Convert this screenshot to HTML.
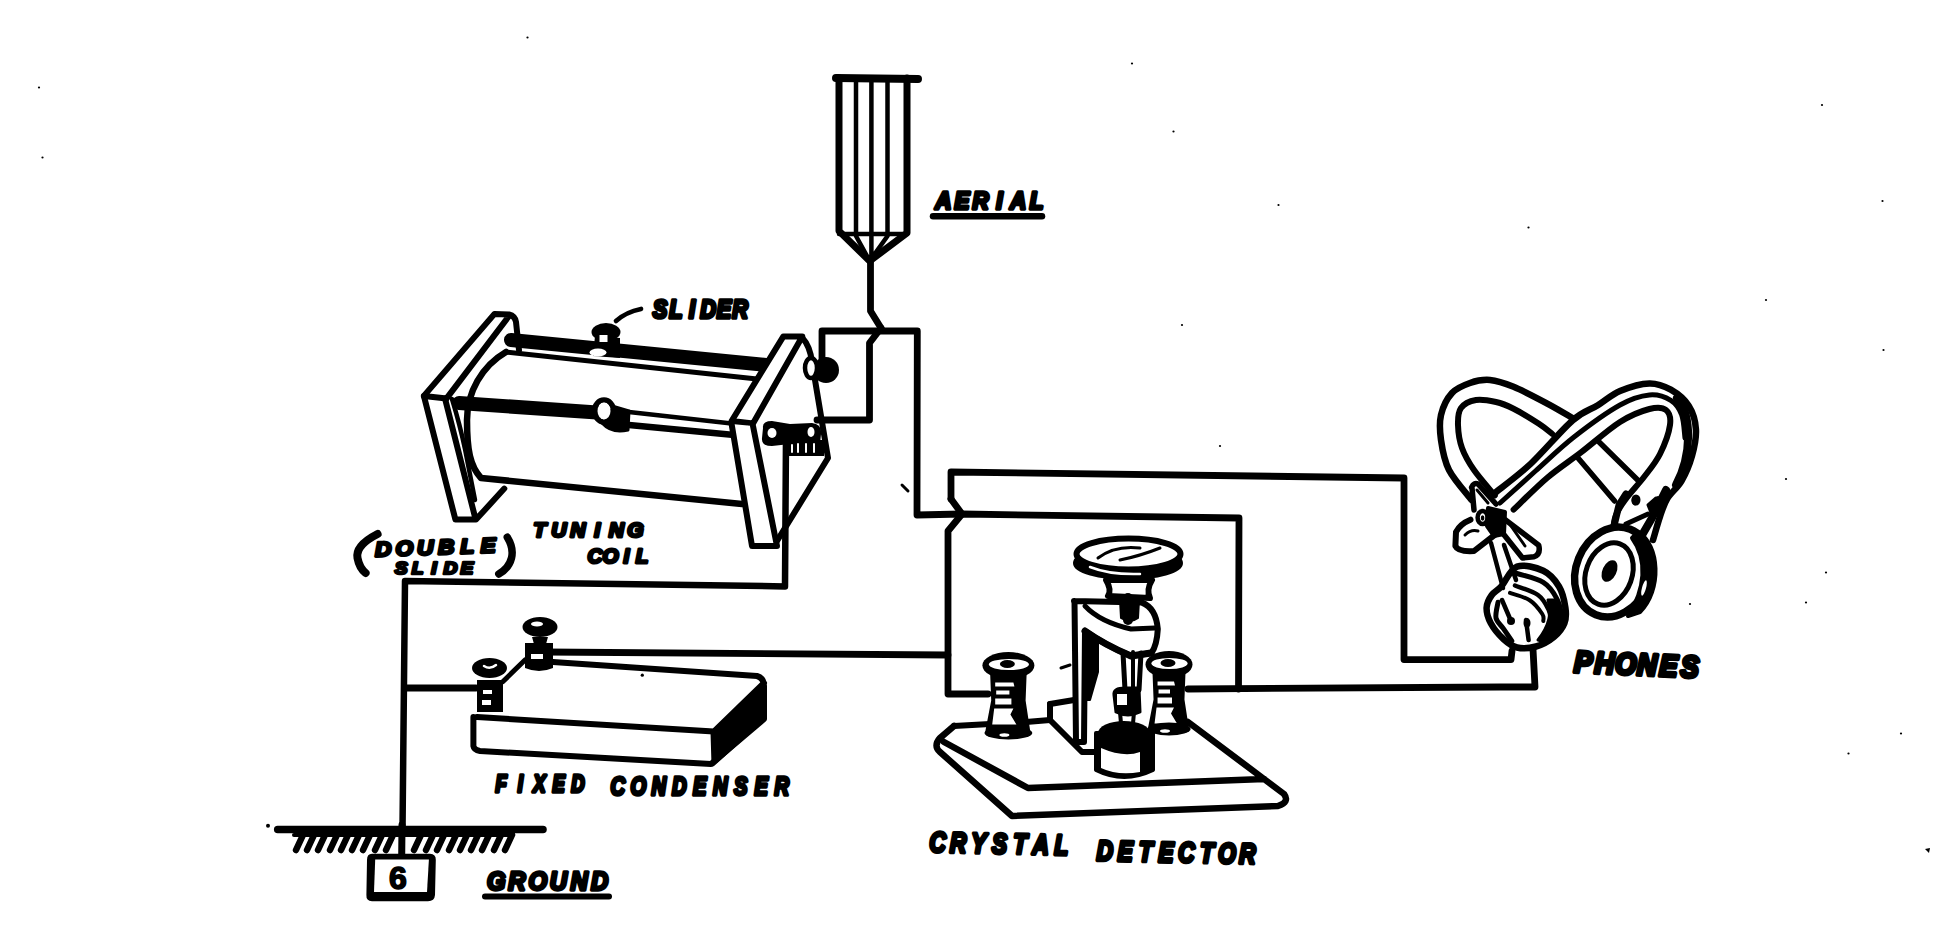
<!DOCTYPE html>
<html><head><meta charset="utf-8"><style>
html,body{margin:0;padding:0;background:#fff;}
body{width:1933px;height:951px;overflow:hidden;}
svg{display:block;}
</style></head><body>
<svg width="1933" height="951" viewBox="0 0 1933 951">
<g fill="none" stroke="#000" stroke-linecap="round" stroke-linejoin="round">
<!-- WIRES -->
<g id="wires" stroke-width="6.8">
<path d="M870.5 261 L870.5 311 L881 328"/>
<path d="M881 328 L869.5 343 L869.5 420 L817 420"/>
<path d="M822 360 L822 331 L917.3 331 L917 515 L962 514 L1239 518 L1238.5 689"/>
<path d="M951 499 L951 472 L1404 478 L1404 659.6 L1511 659.6 L1512 651"/>
<path d="M951 499 L962 514 L948 531 L948 694 L988 694"/>
<path d="M545 652 L948 655"/>
<path d="M1188 689 L1500 687 L1535 687 L1533 649"/>
<path d="M786 437 L785 586.4 L405 581 L402.5 830" stroke-width="6.5"/>
<path d="M405 688 L476 688"/>
</g>

<!-- TUNING COIL -->
<g id="coil">
<!-- coil body -->
<path d="M506 352 C482 366 467 392 467 420 C467 450 470 466 481 478 L742 504" stroke-width="6.5"/>
<path d="M506 352 L757 379" stroke-width="5"/>
<!-- top rod -->
<path d="M511 340 L766 365" stroke-width="14"/>
<!-- slider -->
<ellipse cx="606" cy="332" rx="14.5" ry="9" fill="#000" stroke="none"/>
<path d="M595 336 L593 356 L620 358 L620 338" fill="#000" stroke="none"/>
<rect x="599.5" y="335" width="8" height="7" fill="#fff" stroke="none"/>
<ellipse cx="598" cy="352.5" rx="8.5" ry="4" fill="#fff" stroke="none"/>
<path d="M616 321 Q626 312 641 309" stroke-width="4.7"/>
<!-- lower rod -->
<path d="M459 403 L597 412.5" stroke-width="14"/>
<path d="M629 412 L745 425" stroke-width="4.5"/>
<path d="M629 425 L745 436" stroke-width="6.5"/>
<ellipse cx="604" cy="411" rx="9.5" ry="11" stroke-width="5.5"/>
<path d="M602 423 Q612 434 628 430 L629 411 L612 406" fill="#000" stroke-width="3"/><ellipse cx="604" cy="411" rx="6.5" ry="8.5" fill="#fff" stroke="none"/>
<!-- left board -->
<path d="M446.6 398.4 L423.9 395.9 L494.5 313.9 L509 314.5 Q515 316 516 322 L519 350 M509 316 L446.6 398.4" stroke-width="6"/>
<path d="M423.9 396 L455.4 519.6 L476 519.6 L504.3 488.6 M445 398.4 L475 517" stroke-width="6"/>
<path d="M452 399 Q460 425 465 449 L475 500" stroke-width="4.5"/>
<!-- right board -->
<path d="M731.6 421 L783.4 336.4 L802.3 336.4 L753 423.5 Z" stroke-width="6" fill="#fff"/>
<path d="M731.6 424 L752 546 L777 546 L753 426" stroke-width="6" fill="#fff"/>
<path d="M802.3 337.7 Q810 346 812 362 L828 458 L777 541" stroke-width="6"/>
<!-- screws -->
<ellipse cx="826" cy="370" rx="13" ry="13" fill="#000" stroke="none"/>
<ellipse cx="811" cy="368" rx="6" ry="10" fill="#fff" stroke="#000" stroke-width="4.5"/>
<path d="M763 428 Q762 421 772 421 L790 424 L812 423 Q822 424 821 434 L820 444 Q818 448 808 446 L790 444 L772 446 Q761 446 762 438 Z" fill="#000" stroke="none"/>
<ellipse cx="772" cy="433" rx="4.5" ry="5" fill="#fff" stroke="none"/>
<ellipse cx="811" cy="432" rx="3.5" ry="5" fill="#fff" stroke="none"/>
<path d="M787 440 L824 440 L824 456 L787 456 Z" fill="#000" stroke="none"/>
<path d="M792 445 L792 452 M798 444 L798 452 M806 444 L806 452 M814 444 L814 452" stroke="#fff" stroke-width="2"/>
</g>

<!-- CRYSTAL DETECTOR -->
<g id="detector">
<!-- base -->
<path d="M954 726 L940 738 Q933 746 940 752 L1012 816 L1278 806 Q1290 802 1284 794 L1264 779 L1188 722 M944 742 L1028 788 L1264 779" stroke-width="6.5" fill="#fff"/>
<path d="M954 726 L990 724 M1026 722 L1050 720" stroke-width="6"/>
<!-- bracket -->
<path d="M1050 704 L1050 720 L1082 752 L1094 752" stroke-width="6" fill="#fff"/>
<path d="M1050 704 L1074 700" stroke-width="6"/>
<path d="M1074 601 L1142 602.6 Q1156 608 1157.8 629 Q1157 645 1151.5 653 L1131 656 Q1105 645 1085 631 L1084 742 L1076 742 L1074.5 601 Z" fill="#fff" stroke-width="6"/>
<path d="M1085 606 Q1100 622 1131 629 L1155 628" stroke-width="5"/>
<path d="M1085 631 Q1105 645 1131 656 L1151 653" stroke-width="7"/>
<path d="M1084 633 L1098 640 L1098 672 L1090 700 L1086 700 Z" fill="#000" stroke-width="2"/>
<path d="M1061 668 L1070 665" stroke-width="3"/>
<!-- needle -->
<path d="M1120 600 L1139 600 L1138 618 Q1130 624 1121 618 Z" fill="#000" stroke-width="2"/>
<path d="M1123 653 L1125 690 M1141 653 L1139 690" stroke-width="5"/>
<path d="M1133 652 L1133 688" stroke-width="4"/>
<path d="M1114 695 Q1113 688 1125 688 L1139 688 L1140 712 Q1128 718 1116 712 Z" fill="#000" stroke-width="3"/>
<rect x="1117" y="694" width="10" height="11" fill="#fff" stroke="none"/>
<path d="M1120 712 L1122 735 M1134 712 L1132 735" stroke-width="4"/>
<!-- cup -->
<path d="M1096 733 L1096 770 Q1124 784 1153 770 L1153 733 Z" fill="#000" stroke="#000" stroke-width="4"/>
<path d="M1101 748 Q1124 758 1140 752 L1140 772 Q1118 776 1101 768 Z" fill="#fff" stroke="none"/>
<ellipse cx="1124" cy="733" rx="26" ry="12" fill="#000" stroke="none"/>
<!-- top disc -->
<path d="M1106 580 Q1112 590 1108 596 L1150 598 Q1146 590 1152 580 Z" fill="#fff" stroke-width="6"/>
<ellipse cx="1128" cy="563" rx="53" ry="15" fill="#000" stroke="#000" stroke-width="4"/>
<ellipse cx="1128.5" cy="554" rx="52" ry="15.5" fill="#fff" stroke-width="6"/><path d="M1090 567 Q1110 575 1140 574" stroke="#fff" stroke-width="2.5"/>
<path d="M1098 558 Q1115 545 1140 548 M1120 560 Q1140 556 1160 548" stroke-width="3"/>
<path d="M1128 598 L1128 620" stroke-width="10"/>
<!-- left post -->
<ellipse cx="1008.4" cy="665.5" rx="26" ry="13.5" fill="#000" stroke="none"/>
<path d="M990.1999999999999 674.5 L1026.6 674.5 L1025.6 700.5 L1030.5 733 L985.0 733 L991.1999999999999 700.5 Z" fill="#000" stroke="none"/>
<ellipse cx="1008.9" cy="664.5" rx="20.02" ry="5.5" fill="#fff" stroke="none"/>
<ellipse cx="1007.4" cy="664.0" rx="7.5" ry="4" fill="#000" stroke="none"/>
<path d="M995.1999999999999 682.5 L1013.4 682.5 L1014.4 686.5 L995.1999999999999 686.5 Z M996.1999999999999 690.5 L1009.4 690.5 L1009.4 694.5 L996.1999999999999 694.5 Z M995.1999999999999 698.5 L1011.4 698.5 L1011.4 704.5 L995.1999999999999 704.5 Z M994.1999999999999 708.5 L1013.4 708.5 L1010.4 714.5 L1016.4 724.5 L992.1999999999999 724.5 Z" fill="#fff" stroke="none"/>
<ellipse cx="1008.4" cy="733" rx="23.92" ry="6.5" fill="#000" stroke="none"/>
<ellipse cx="1004.4" cy="735" rx="5" ry="1.8" fill="#fff" stroke="none"/>
<!-- right post -->
<ellipse cx="1169" cy="664.5" rx="23.5" ry="13.5" fill="#000" stroke="none"/>
<path d="M1152.55 673.5 L1185.45 673.5 L1184.45 699.5 L1188.975 729 L1147.85 729 L1153.55 699.5 Z" fill="#000" stroke="none"/>
<ellipse cx="1169.5" cy="663.5" rx="18.095" ry="5.5" fill="#fff" stroke="none"/>
<ellipse cx="1168" cy="663.0" rx="7.5" ry="4" fill="#000" stroke="none"/>
<path d="M1157.55 681.5 L1174 681.5 L1175 685.5 L1157.55 685.5 Z M1158.55 689.5 L1170 689.5 L1170 693.5 L1158.55 693.5 Z M1157.55 697.5 L1172 697.5 L1172 703.5 L1157.55 703.5 Z M1156.55 707.5 L1174 707.5 L1171 713.5 L1177 723.5 L1154.55 723.5 Z" fill="#fff" stroke="none"/>
<ellipse cx="1169" cy="729" rx="21.62" ry="6.5" fill="#000" stroke="none"/>
<ellipse cx="1165" cy="731" rx="5" ry="1.8" fill="#fff" stroke="none"/>
</g>

<!-- CONDENSER -->
<g id="condenser">
<path d="M473.4 717 L473.4 746 Q474 750 480 751 L711 764 L764 719 L764 686 Q764 678 757 676 L553 662 M477 717 L713.8 731.6 L764 683" stroke-width="6" fill="#fff"/>
<path d="M712 732 L764 684 L764 719 L713 765 Z" fill="#000" stroke-width="3"/>
<path d="M503 681.5 L525 660" stroke-width="5"/>
<!-- post R -->
<path d="M525 643 L525 668 Q539 674 553 668 L553 643 Z" fill="#000" stroke="none"/>
<rect x="531" y="654" width="12" height="5" fill="#fff" stroke="none"/>
<ellipse cx="540" cy="627" rx="17.5" ry="10" fill="#000" stroke="none"/>
<path d="M532 637 L548 637 L546 644 L534 644 Z" fill="#000" stroke="none"/>
<ellipse cx="537" cy="624" rx="6" ry="2.5" fill="#fff" stroke="none"/>
<!-- post L -->
<path d="M477 680 L477 712 L503 712 L503 680 Z" fill="#000" stroke="none"/>
<rect x="483" y="690" width="9" height="4" fill="#fff" stroke="none"/>
<rect x="482" y="700" width="9" height="5" fill="#fff" stroke="none"/>
<ellipse cx="489.5" cy="668" rx="17.5" ry="10" fill="#000" stroke="none"/>
<path d="M484 666 Q490 670 496 665" stroke="#fff" stroke-width="2.5"/>
</g>
<!-- GROUND -->
<g id="ground">
<path d="M277.7 829.5 L543 829.5" stroke-width="7.5"/>
<path d="M296 850 L303 835 M307 850 L314 835 M318 850 L325 835 M330 850 L337 835 M341 850 L348 835 M352 850 L359 835 M363 850 L370 835 M375 850 L382 835 M386 850 L393 835 M414 850 L421 835 M426 850 L433 835 M437 850 L444 835 M449 850 L456 835 M460 850 L467 835 M471 850 L478 835 M482 850 L489 835 M494 850 L501 835 M505 850 L512 835" stroke-width="6.5"/>
<path d="M294 835 L512 835" stroke-width="4"/>
<path d="M402 825 L401.7 856" stroke-width="7"/>
<path d="M372 853.8 L430 853.8 Q436 854 435.8 860 L435 895 Q434.5 901.2 428 901.2 L372 901.2 Q366 901 366.4 895 L367 860 Q367 853.8 372 853.8 Z" fill="#000" stroke="none"/>
<path d="M375.2 859.5 L428.9 859.5 L427 892 L374 892 Z" fill="#fff" stroke="none"/>
<circle cx="268" cy="825.7" r="2" fill="#000" stroke="none"/>
</g>

<!-- PHONES -->
<g id="phones" stroke-width="5.5">
<path d="M1471.6 500.0 C1467.8 495.0 1454.1 480.0 1449.0 470.0 C1443.9 460.0 1442.3 449.2 1441.0 440.0 C1439.7 430.8 1439.2 422.8 1441.0 415.0 C1442.8 407.2 1447.2 398.3 1452.0 393.0 C1456.8 387.7 1463.7 385.2 1470.0 383.0 C1476.3 380.8 1482.7 379.4 1490.0 380.0 C1497.3 380.6 1504.0 382.9 1513.6 386.8 C1523.1 390.7 1537.5 398.4 1547.3 403.6 C1557.1 408.8 1568.3 415.6 1572.5 418.0" stroke-width="6.5"/>
<path d="M1494.8 495.4 C1491.3 491.2 1479.5 477.9 1474.0 470.0 C1468.5 462.1 1464.7 455.5 1462.0 448.0 C1459.3 440.5 1458.2 431.7 1458.0 425.0 C1457.8 418.3 1458.0 412.2 1461.0 408.0 C1464.0 403.8 1470.2 401.0 1476.0 400.0 C1481.8 399.0 1489.7 400.6 1496.0 402.0 C1502.3 403.4 1506.4 405.1 1513.6 408.7 C1520.8 412.3 1532.5 419.6 1538.9 423.8 C1545.4 428.0 1550.1 432.3 1552.3 434.0" stroke-width="6"/>
<path d="M1577.6 457.5 L1614.6 501 M1597.8 440.7 L1638.7 481" stroke-width="5.5"/>
<path d="M1495.0 492.8 C1500.9 488.0 1517.6 476.1 1530.5 464.0 C1543.4 451.9 1561.3 430.3 1572.5 420.5 C1583.7 410.7 1589.9 410.2 1597.8 405.3 C1605.7 400.4 1611.4 394.6 1620.0 391.0 C1628.6 387.4 1640.9 383.6 1649.4 383.4 C1657.9 383.2 1664.2 386.0 1670.8 389.7 C1677.3 393.4 1684.5 399.2 1688.7 405.8 C1692.9 412.4 1695.4 420.7 1695.9 429.0 C1696.5 437.3 1694.4 447.2 1692.0 455.8 C1689.6 464.4 1685.7 473.7 1681.6 480.8 C1677.5 487.9 1670.9 492.7 1667.3 498.7 C1663.7 504.7 1662.4 509.7 1660.0 516.6 C1657.6 523.5 1654.2 536.1 1653.0 540.0" stroke-width="6.5"/>
<path d="M1500.0 503.0 C1505.9 497.7 1523.2 482.0 1535.5 471.0 C1547.8 460.0 1559.9 448.0 1574.0 437.0 C1588.1 426.0 1607.4 412.0 1620.0 405.0 C1632.6 398.0 1640.9 395.8 1649.4 395.0 C1657.9 394.2 1665.4 397.1 1670.8 400.4 C1676.2 403.7 1679.2 408.4 1681.6 414.7 C1684.0 421.0 1684.4 434.1 1685.0 438.0" stroke-width="5"/>
<path d="M1513.6 509.6 C1519.2 504.3 1536.1 487.2 1547.3 477.7 C1558.5 468.2 1568.9 461.7 1581.0 452.4 C1593.1 443.1 1608.6 429.2 1620.0 422.0 C1631.4 414.8 1641.7 411.0 1649.4 409.0 C1657.1 407.0 1662.6 407.3 1666.0 410.0 C1669.4 412.7 1671.0 417.7 1670.0 425.0 C1669.0 432.3 1664.3 445.3 1660.0 454.0 C1655.7 462.7 1649.7 469.6 1644.0 477.0 C1638.3 484.4 1630.8 492.1 1626.0 498.7 C1621.2 505.3 1617.7 509.7 1615.4 516.6 C1613.1 523.5 1612.6 536.1 1612.0 540.0" stroke-width="6"/>
<path d="M1677 398 C1692 415 1692 455 1676 485" stroke-width="8"/>
<ellipse cx="1635" cy="500.5" rx="3.5" ry="5" fill="#000" stroke="none"/>
<path d="M1648 505 L1656 498 L1652 515 Z" fill="#000" stroke-width="3"/>
<!-- left clip -->
<path d="M1471.6 487.4 Q1474 482 1478 484 L1496 504 M1472 488 L1474 510" stroke-width="5.5"/>
<path d="M1477 490 L1488 503" stroke-width="3"/>
<path d="M1470.5 519.7 Q1460 524 1456 532 L1455.4 546 Q1458 552 1474 551 L1494.8 534.8" stroke-width="6"/>
<path d="M1465 535 Q1471 529 1478 531" stroke-width="3"/>
<ellipse cx="1482.6" cy="517.5" rx="5" ry="6.5" stroke-width="4.5"/>
<ellipse cx="1482.6" cy="518" rx="1.8" ry="2.8" fill="#000" stroke="none"/>
<path d="M1488 508 L1505 512 L1504 534 L1494 536 L1487 526 Z" fill="#000" stroke-width="4"/>
<path d="M1505.2 519.7 L1538.7 545.2 Q1541 554 1534 556.8 L1522.5 558 L1504 534.8" stroke-width="5.5"/>
<path d="M1511 526 L1525 546" stroke-width="3"/>
<!-- stems -->
<!-- left earphone -->
<path d="M1517.0 566.6 C1524.0 564.0 1536.3 567.5 1543.3 570.8 C1550.3 574.1 1555.3 580.4 1559.0 586.5 C1562.7 592.6 1564.5 601.5 1565.4 607.6 C1566.3 613.7 1566.3 618.4 1564.4 623.3 C1562.5 628.2 1558.6 633.1 1553.9 637.0 C1549.2 640.9 1542.2 644.8 1536.0 646.5 C1529.8 648.2 1522.4 648.8 1517.0 647.5 C1511.6 646.2 1507.8 643.0 1503.4 639.0 C1499.0 635.0 1493.6 628.5 1490.8 623.3 C1488.0 618.1 1486.4 612.3 1486.6 607.6 C1486.8 602.9 1489.3 598.5 1491.8 595.0 C1494.2 591.5 1497.1 591.2 1501.3 586.5 C1505.5 581.8 1510.0 569.2 1517.0 566.6 Z" fill="#fff" stroke-width="6.5"/>
<path d="M1557 600 C1566 615 1562 632 1545 642 L1538 640 C1550 625 1552 612 1548 600 Z" fill="#000" stroke-width="3"/>
<path d="M1515.0 573.0 C1519.7 574.5 1536.3 578.0 1543.3 582.3 C1550.3 586.6 1554.0 593.0 1557.0 599.0 C1560.0 605.0 1561.5 613.1 1561.2 618.0 C1560.9 622.9 1556.0 626.8 1555.0 628.6" stroke-width="5"/>
<path d="M1515.0 585.5 C1518.8 587.1 1532.4 591.0 1538.0 595.0 C1543.6 599.0 1546.5 605.5 1548.6 609.7 C1550.7 613.9 1550.3 618.3 1550.7 620.0" stroke-width="4.5"/>
<path d="M1510.0 592.9 C1513.3 594.1 1524.3 596.7 1529.7 600.2 C1535.1 603.7 1540.0 610.5 1542.3 614.0 C1544.6 617.5 1543.1 619.8 1543.3 621.0" stroke-width="4"/>
<path d="M1498.0 602.3 C1497.7 604.9 1495.1 613.6 1496.0 618.0 C1496.9 622.4 1500.8 624.8 1503.4 628.6 C1506.0 632.4 1510.4 638.9 1511.8 641.0" stroke-width="5"/>
<path d="M1502 600 L1511 621 M1526 620 L1528.6 640" stroke-width="4.5"/>
<circle cx="1511" cy="621" r="4" fill="#000" stroke="none"/>
<ellipse cx="1527" cy="623" rx="3.5" ry="5" fill="#000" stroke="none"/>
<path d="M1491 543 L1503 588 M1504 545 L1516 580" stroke-width="4.5"/>
<!-- right earphone -->
<path d="M1613 530 L1619 505 L1626 494" stroke-width="7"/>
<path d="M1638 542 L1652 518 L1666 490" stroke-width="8"/>
<path d="M1626 524 L1648 514" stroke-width="5"/>
<ellipse cx="1636" cy="500" rx="4.5" ry="5.5" fill="#000" stroke="none"/>
<path d="M1650 506 L1658 498" stroke-width="4"/>
<ellipse cx="1613" cy="572" rx="37" ry="46" transform="rotate(22 1613 572)" fill="#fff" stroke-width="7.5"/>
<ellipse cx="1609" cy="574" rx="23" ry="32" transform="rotate(20 1609 574)" stroke-width="5"/>
<ellipse cx="1609.5" cy="571" rx="7" ry="11.5" transform="rotate(25 1609.5 571)" fill="#000" stroke="none"/>
<path d="M1638 532 C1660 545 1662 590 1640 612 L1628 616 C1645 590 1648 560 1632 538 Z" fill="#000" stroke-width="4"/>
<ellipse cx="1644" cy="588" rx="2" ry="8" transform="rotate(15 1644 588)" fill="#fff" stroke="none"/>
</g>
<path d="M902 485 L908 491" stroke-width="3"/>
<!-- AERIAL -->
<g id="aerial">
<path d="M836 78 L918 79" stroke-width="8"/>
<path d="M839 78 L839 231 L869.7 261 L907 233 L907 78" stroke-width="7"/>
<path d="M856 80 L856 236 L869.7 261 M871.4 80 L871.4 261 M887.5 80 L887.5 236 L869.7 261" stroke-width="4.5"/>
<path d="M839 234 L907 234" stroke-width="4.5"/>
</g>
</g>

<g id="specks" fill="#000" stroke="none"><circle cx="642.3" cy="675.2" r="1.6"/><circle cx="39" cy="87.5" r="1.1"/><circle cx="42.5" cy="157.5" r="1.1"/><circle cx="527.5" cy="37.5" r="1.1"/><circle cx="1132" cy="63.5" r="1.1"/><circle cx="1173.5" cy="131.5" r="1.1"/><circle cx="1278.5" cy="205" r="1.1"/><circle cx="1528.5" cy="227.5" r="1.1"/><circle cx="1822" cy="105" r="1.1"/><circle cx="1882.5" cy="201" r="1.1"/><circle cx="1766" cy="300" r="1.1"/><circle cx="1883.5" cy="350" r="1.1"/><circle cx="1182" cy="325" r="1.1"/><circle cx="1220" cy="446" r="1.1"/><circle cx="1786" cy="479" r="1.1"/><circle cx="1826" cy="572.5" r="1.1"/><circle cx="1806" cy="602.5" r="1.1"/><circle cx="1690" cy="604" r="1.1"/><circle cx="1901" cy="733.5" r="1.1"/><circle cx="1848.5" cy="753.5" r="1.1"/><path d="M1925 849 L1930 848 L1929 853 Z"/></g>
<!-- TEXT -->
<g id="labels" font-family="Liberation Sans, sans-serif" font-weight="bold" font-style="italic" fill="#000" stroke="#000" stroke-linejoin="round" text-anchor="middle">
<text y="0" font-size="23.5" stroke-width="3.49" transform="translate(934 208.8) scale(0.95 1)"><tspan x="9.8">A</tspan><tspan x="29.5">E</tspan><tspan x="49.1">R</tspan><tspan x="68.8">I</tspan><tspan x="88.4">A</tspan><tspan x="108.1">L</tspan></text>
<text y="0" font-size="25.5" stroke-width="3.68" transform="translate(652 318.3) scale(0.85 1)"><tspan x="9.4">S</tspan><tspan x="28.2">L</tspan><tspan x="47.1">I</tspan><tspan x="65.9">D</tspan><tspan x="84.7">E</tspan><tspan x="103.5">R</tspan></text>
<text y="0" font-size="20.6" stroke-width="2.97" transform="translate(530 536.5) scale(1.02 1)"><tspan x="9.4">T</tspan><tspan x="28.2">U</tspan><tspan x="47.0">N</tspan><tspan x="65.8">I</tspan><tspan x="84.6">N</tspan><tspan x="103.3">G</tspan></text>
<text y="0" font-size="20.6" stroke-width="3.00" transform="translate(587 562.5) scale(1.0 1)"><tspan x="7.9">C</tspan><tspan x="23.6">O</tspan><tspan x="39.4">I</tspan><tspan x="55.1">L</tspan></text>
<text y="0" font-size="20.6" stroke-width="2.86" transform="translate(373 556.5) rotate(-2) scale(1.1 1)"><tspan x="9.5">D</tspan><tspan x="28.6">O</tspan><tspan x="47.7">U</tspan><tspan x="66.8">B</tspan><tspan x="85.9">L</tspan><tspan x="105.0">E</tspan></text>
<text y="0" font-size="17.4" stroke-width="2.67" transform="translate(393 574.1) scale(1.1 1)"><tspan x="7.5">S</tspan><tspan x="22.4">L</tspan><tspan x="37.3">I</tspan><tspan x="52.2">D</tspan><tspan x="67.1">E</tspan></text>
<text y="0" font-size="23.0" stroke-width="3.56" transform="translate(491.5 792.4) scale(0.8 1)"><tspan x="12.0">F</tspan><tspan x="36.0">I</tspan><tspan x="60.0">X</tspan><tspan x="84.0">E</tspan><tspan x="108.0">D</tspan></text>
<text y="0" font-size="25.1" stroke-width="3.56" transform="translate(607.5 794.9) scale(0.8 1)"><tspan x="12.8">C</tspan><tspan x="38.4">O</tspan><tspan x="64.1">N</tspan><tspan x="89.7">D</tspan><tspan x="115.3">E</tspan><tspan x="140.9">N</tspan><tspan x="166.6">S</tspan><tspan x="192.2">E</tspan><tspan x="217.8">R</tspan></text>
<text y="0" font-size="28.3" stroke-width="3.78" transform="translate(927 851.8) rotate(1.2) scale(0.8 1)"><tspan x="12.9">C</tspan><tspan x="38.7">R</tspan><tspan x="64.5">Y</tspan><tspan x="90.3">S</tspan><tspan x="116.1">T</tspan><tspan x="141.9">A</tspan><tspan x="167.7">L</tspan></text>
<text y="0" font-size="28.3" stroke-width="3.78" transform="translate(1094.5 860.3) rotate(1.2) scale(0.8 1)"><tspan x="12.7">D</tspan><tspan x="38.2">E</tspan><tspan x="63.7">T</tspan><tspan x="89.1">E</tspan><tspan x="114.6">C</tspan><tspan x="140.1">T</tspan><tspan x="165.5">O</tspan><tspan x="191.0">R</tspan></text>
<text y="0" font-size="30.2" stroke-width="4.21" transform="translate(1572 672.0) rotate(2.5) scale(0.9 1)"><tspan x="11.9">P</tspan><tspan x="35.6">H</tspan><tspan x="59.3">O</tspan><tspan x="83.0">N</tspan><tspan x="106.7">E</tspan><tspan x="130.4">S</tspan></text>
<text y="0" font-size="25.1" stroke-width="3.28" transform="translate(486 889.9) scale(0.95 1)"><tspan x="10.9">G</tspan><tspan x="32.6">R</tspan><tspan x="54.4">O</tspan><tspan x="76.1">U</tspan><tspan x="97.9">N</tspan><tspan x="119.6">D</tspan></text>





<path d="M933 216.3 L1042 216.3" stroke-width="6.5" fill="none" stroke-linecap="round"/>
<path d="M485 896.5 L609 896.5" stroke-width="6" fill="none" stroke-linecap="round"/>
<path d="M377.6 534 C362 542 356 550 357.5 558 C359 566 362 570 365.6 573" fill="none" stroke-width="8" stroke-linecap="round"/>
<path d="M507.3 537.3 C512 545 513 552 511.5 558 C509.5 566 504 571 498.8 574" fill="none" stroke-width="7.5" stroke-linecap="round"/>
<text x="398" y="888.8" font-size="32" font-style="normal" stroke-width="1.6">6</text>
</g>
</svg>
</body></html>
